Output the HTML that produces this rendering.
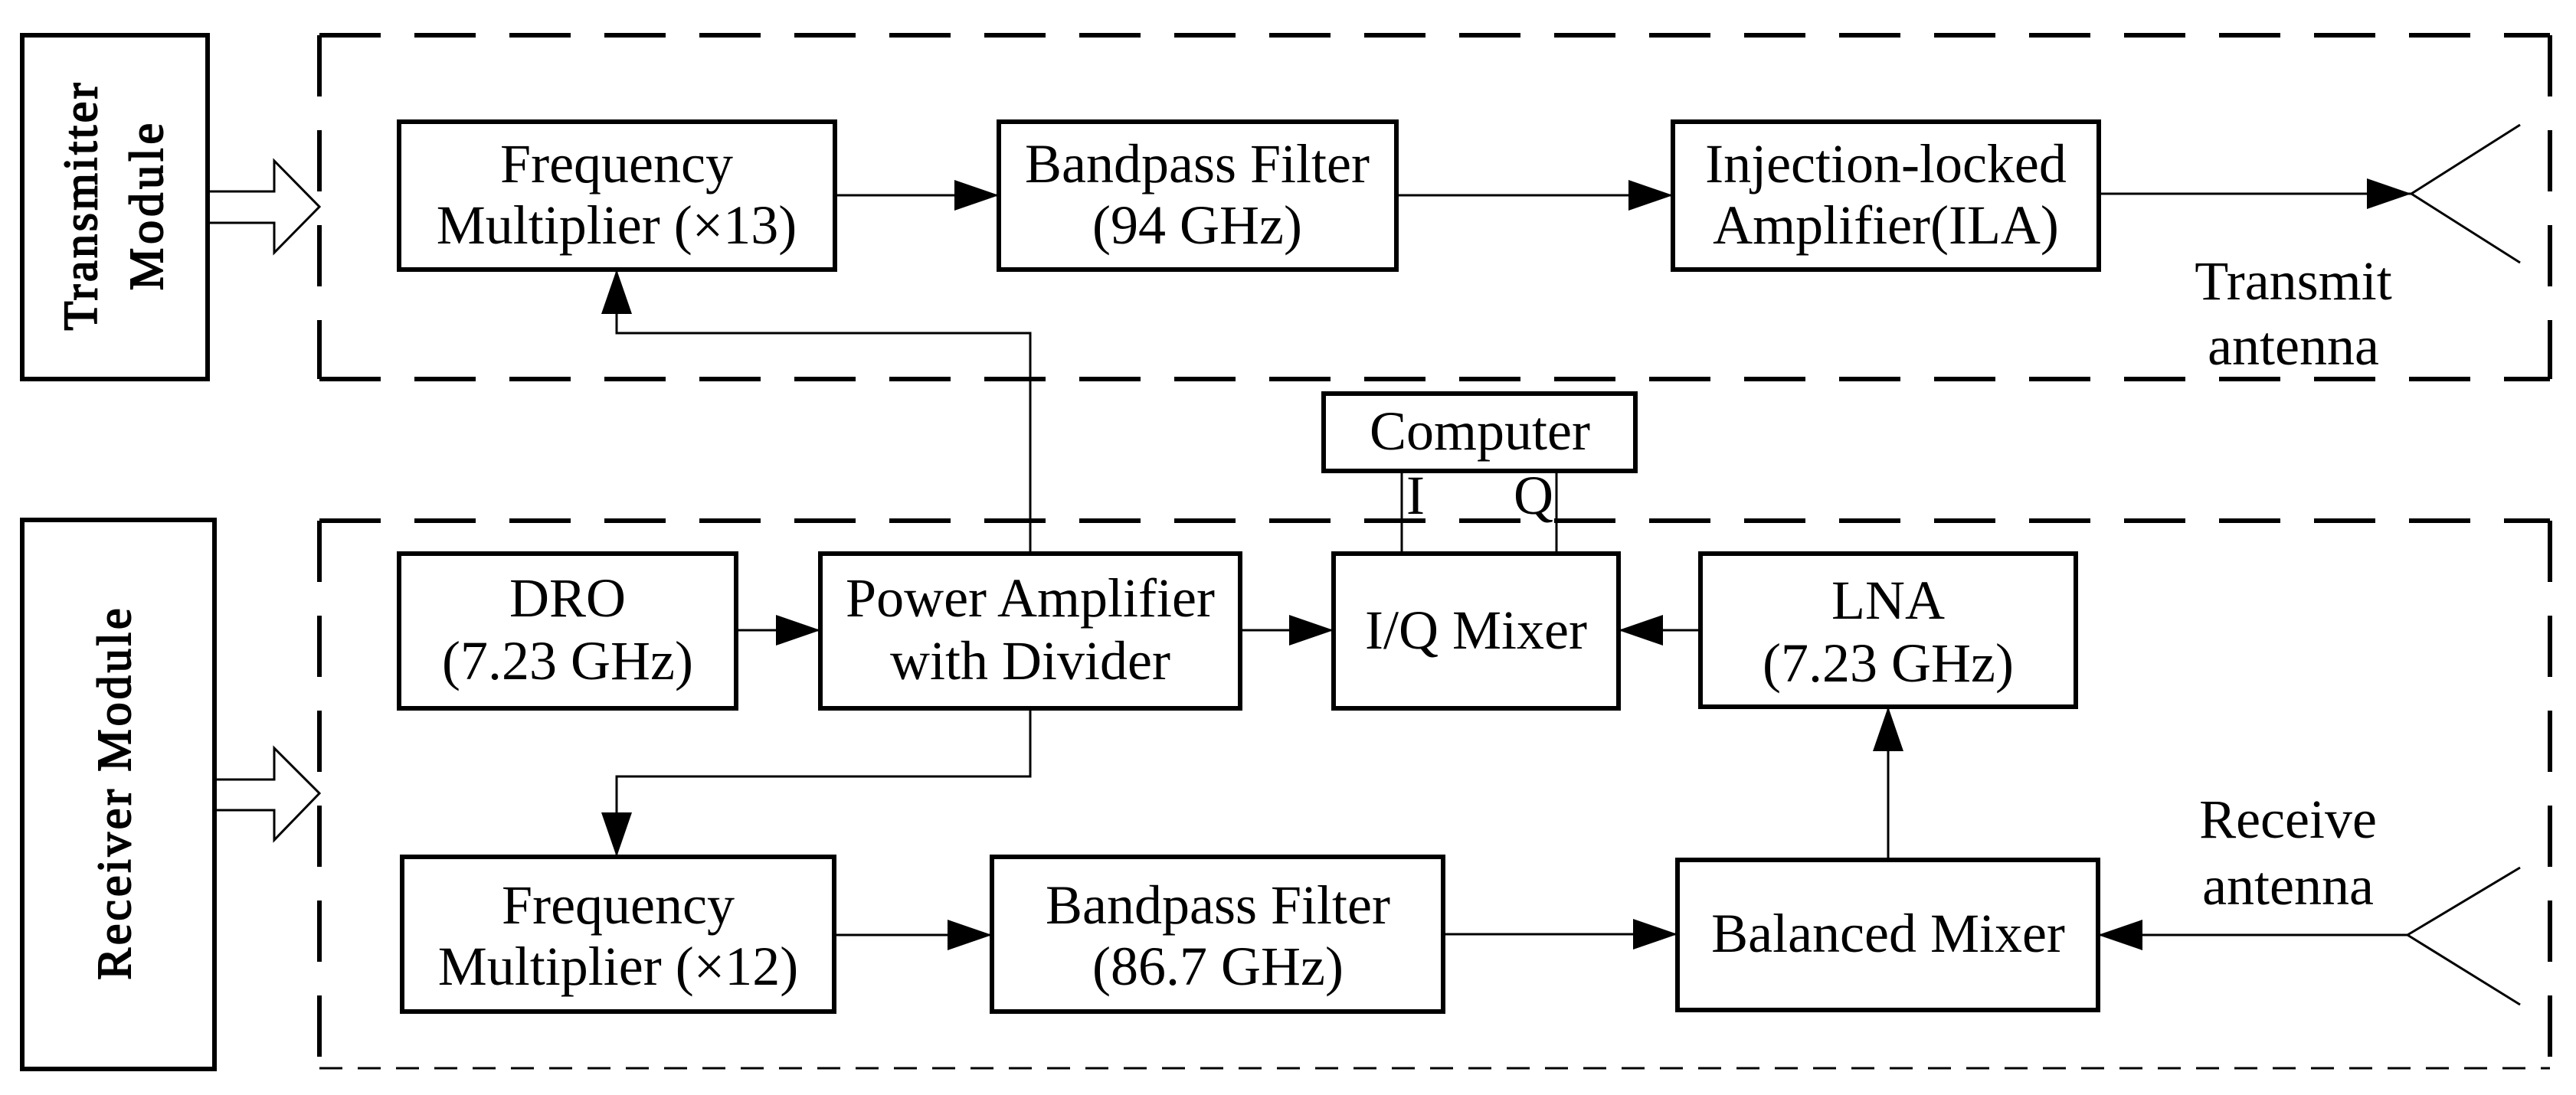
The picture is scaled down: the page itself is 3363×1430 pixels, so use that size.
<!DOCTYPE html>
<html><head><meta charset="utf-8"><style>
html,body{margin:0;padding:0;background:#fff;}
svg{display:block;}
</style></head><body>
<svg width="3363" height="1430" viewBox="0 0 3363 1430" xmlns="http://www.w3.org/2000/svg" font-family="'Liberation Serif', 'DejaVu Serif', serif">
<defs>
<marker id="ah" markerUnits="userSpaceOnUse" markerWidth="60" markerHeight="44" refX="58" refY="20" orient="auto">
<path d="M0,0 L58,20 L0,40 Z" fill="#000"/>
</marker>
</defs>
<g fill="none" stroke="#000">
<g stroke-width="6" stroke-dasharray="80 44">
<line x1="417" y1="46" x2="3329" y2="46"/>
<line x1="417" y1="495" x2="3329" y2="495"/>
<line x1="417" y1="46" x2="417" y2="495"/>
<line x1="3329" y1="46" x2="3329" y2="495"/>
<line x1="417" y1="680" x2="3329" y2="680"/>
<line x1="3329" y1="680" x2="3329" y2="1395"/>
<line x1="417" y1="680" x2="417" y2="1395"/>
</g>
<line x1="417" y1="1395" x2="3329" y2="1395" stroke-width="3" stroke-dasharray="30 20"/>
<g stroke-width="6">
<rect x="29" y="46" width="242" height="449"/>
<rect x="29" y="679" width="251" height="717"/>
<rect x="521" y="159" width="569" height="193"/>
<rect x="1304" y="159" width="519" height="193"/>
<rect x="2184" y="159" width="556" height="193"/>
<rect x="1728" y="514" width="407" height="101"/>
<rect x="521" y="723" width="440" height="202"/>
<rect x="1071" y="723" width="548" height="202"/>
<rect x="1741" y="723" width="372" height="202"/>
<rect x="2220" y="723" width="490" height="200"/>
<rect x="525" y="1119" width="564" height="202"/>
<rect x="1295" y="1119" width="589" height="202"/>
<rect x="2190" y="1123" width="549" height="196"/>
</g>
<path d="M271,250 H358 V210 L417,270 L358,330 V291 H271" stroke-width="3"/>
<path d="M280,1018 H358 V977 L417,1036 L358,1097 V1058 H280" stroke-width="3"/>
<g stroke-width="3">
<line x1="1090" y1="255" x2="1304" y2="255" marker-end="url(#ah)"/>
<line x1="1823" y1="255" x2="2184" y2="255" marker-end="url(#ah)"/>
<line x1="2740" y1="253" x2="3148" y2="253" marker-end="url(#ah)"/>
<line x1="3148" y1="253" x2="3290" y2="163"/>
<line x1="3148" y1="253" x2="3290" y2="343"/>
<polyline points="1345,723 1345,435 805,435 805,352" marker-end="url(#ah)"/>
<line x1="1830" y1="615" x2="1830" y2="723"/>
<line x1="2032" y1="615" x2="2032" y2="723"/>
<line x1="961" y1="823" x2="1071" y2="823" marker-end="url(#ah)"/>
<line x1="1619" y1="823" x2="1741" y2="823" marker-end="url(#ah)"/>
<line x1="2220" y1="823" x2="2113" y2="823" marker-end="url(#ah)"/>
<polyline points="1345,925 1345,1014 805,1014 805,1119" marker-end="url(#ah)"/>
<line x1="1089" y1="1221" x2="1295" y2="1221" marker-end="url(#ah)"/>
<line x1="1884" y1="1220" x2="2190" y2="1220" marker-end="url(#ah)"/>
<line x1="2465" y1="1123" x2="2465" y2="923" marker-end="url(#ah)"/>
<line x1="3143" y1="1221" x2="2739" y2="1221" marker-end="url(#ah)"/>
<line x1="3143" y1="1221" x2="3290" y2="1133"/>
<line x1="3143" y1="1221" x2="3290" y2="1312"/>
</g>
</g>
<g font-size="72" text-anchor="middle" dominant-baseline="central" fill="#000">
<text x="805" y="214">Frequency</text>
<text x="805" y="294">Multiplier (×13)</text>
<text x="1563" y="214">Bandpass Filter</text>
<text x="1563" y="294">(94 GHz)</text>
<text x="2462" y="214">Injection-locked</text>
<text x="2462" y="294">Amplifier(ILA)</text>
<text x="2994" y="367">Transmit</text>
<text x="2994" y="452">antenna</text>
<text x="1932" y="563">Computer</text>
<text x="1848" y="647">I</text>
<text x="2002" y="647">Q</text>
<text x="741" y="781">DRO</text>
<text x="741" y="863">(7.23 GHz)</text>
<text x="1345" y="781">Power Amplifier</text>
<text x="1345" y="863">with Divider</text>
<text x="1927" y="823">I/Q Mixer</text>
<text x="2465" y="784">LNA</text>
<text x="2465" y="866">(7.23 GHz)</text>
<text x="807" y="1182">Frequency</text>
<text x="807" y="1262">Multiplier (×12)</text>
<text x="1590" y="1182">Bandpass Filter</text>
<text x="1590" y="1262">(86.7 GHz)</text>
<text x="2465" y="1219">Balanced Mixer</text>
<text x="2987" y="1070">Receive</text>
<text x="2987" y="1157">antenna</text>
</g>
<g font-size="62" text-anchor="middle" dominant-baseline="central" fill="#000" stroke="#000" stroke-width="2">
<text transform="translate(106,270) rotate(-90)" textLength="323" lengthAdjust="spacing">Transmitter</text>
<text transform="translate(192,270) rotate(-90)" textLength="218" lengthAdjust="spacing">Module</text>
<text transform="translate(150,1037) rotate(-90)" textLength="485" lengthAdjust="spacing">Receiver Module</text>
</g>
</svg>
</body></html>
